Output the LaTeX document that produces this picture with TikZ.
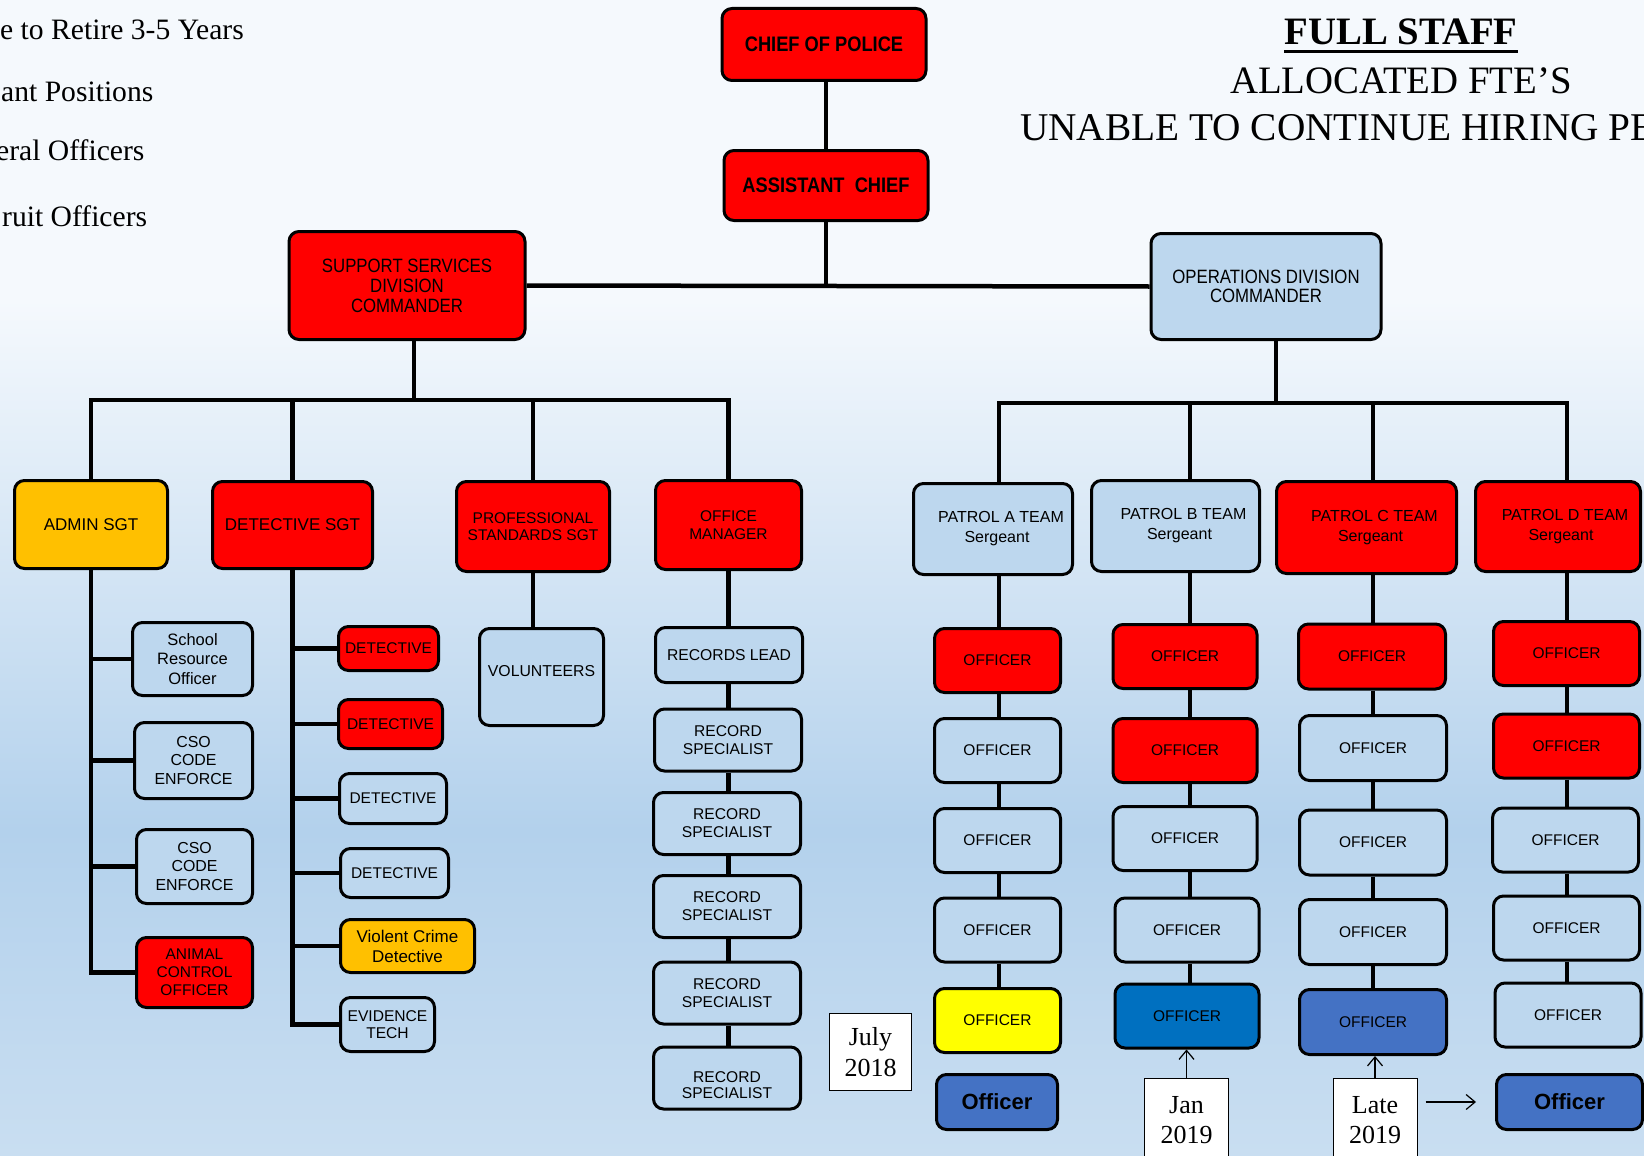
\documentclass[tikz,border=0pt]{standalone}
\usepackage{fontspec}
\setmainfont{Liberation Serif}
\newfontfamily\arial{Liberation Sans}
\newfontfamily\arialn{Liberation Sans}[FakeStretch=0.87]
\usetikzlibrary{arrows.meta}
\definecolor{cRed}{HTML}{FF0000}
\definecolor{cLB}{HTML}{BDD7EE}
\definecolor{cOr}{HTML}{FFC000}
\definecolor{cYe}{HTML}{FFFF00}
\definecolor{cDB}{HTML}{0070C0}
\definecolor{cMB}{HTML}{4472C4}
\definecolor{bgTop}{HTML}{F5F9FD}
\definecolor{bgMid}{HTML}{B3D1EC}
\definecolor{bgBot}{HTML}{C9DEF1}
\newcommand\fsz[2]{\fontsize{#1}{#2}\selectfont}
\newcommand\lowertext[2]{\raisebox{#1}[\height][\depth]{\begin{tabular}{@{}c@{}}#2\end{tabular}}}
\begin{document}
\begin{tikzpicture}[x=1pt,y=-1pt,
  box/.style={draw=black, line width=3pt, rounded corners=10pt, align=center, inner sep=0pt, text=black, font=\arial\fsz{15.5}{18}},
  rbox/.style={box, fill=cRed},
  lbox/.style={box, fill=cLB},
  obox/.style={box, fill=cOr},
  ybox/.style={box, fill=cYe},
  dbox/.style={box, fill=cDB},
  mbox/.style={box, fill=cMB},
  offc/.style={minimum width=126, minimum height=64},
  offb/.style={minimum width=144, minimum height=64},
  offcc/.style={minimum width=147, minimum height=65},
  offd/.style={minimum width=146, minimum height=64},
  recs/.style={lbox, minimum width=147, minimum height=62, font=\arial\fsz{15.6}{17.8}},
  patrol/.style={minimum height=91, font=\arial\fsz{16}{20}},
  bigoff/.style={mbox, minimum height=55, font=\arial\bfseries\fsz{22}{24}},
  conn/.style={line width=4.5pt, draw=black, line join=miter},
  arr/.style={line width=1.2pt, draw=black, -{Straight Barb[length=9pt,width=15pt]}},
  datebox/.style={draw=black, line width=1pt, fill=white, align=center, inner sep=0pt, font=\fsz{26}{30.5}},
  ttl/.style={inner sep=0pt, text=black},
]
\useasboundingbox (0,0) rectangle (1644,1156);
\clip (0,0) rectangle (1644,1156);
% background
\fill[bgTop] (0,0) rectangle (1644,300);
\shade[top color=bgTop, bottom color=bgMid] (0,300) rectangle (1644,830);
\shade[top color=bgMid, bottom color=bgBot] (0,830) rectangle (1644,1156);

% titles
\node[ttl, anchor=base west, font=\fsz{29.6}{31}] (l1) at (0,40) {e to Retire 3-5 Years};
\node[ttl, anchor=base west, font=\fsz{29.6}{31}] (l2) at (1,101.5) {ant Positions};
\node[ttl, anchor=base west, font=\fsz{29.6}{31}] (l3) at (-4,160.5) {eral Officers};
\node[ttl, anchor=base west, font=\fsz{29.6}{31}] (l4) at (2,226) {ruit Officers};
\node[ttl, anchor=base, font=\bfseries\fsz{38.8}{40}] (fs) at (1401,45) {FULL STAFF};
\draw[line width=3pt] ([yshift=-6.5pt]fs.base west) -- ([yshift=-6.5pt]fs.base east);
\node[ttl, anchor=base, font=\fsz{38.8}{40}] (alloc) at (1401,93) {ALLOCATED FTE’S};
\node[ttl, anchor=base west, font=\fsz{39.3}{40}] (unable) at (1020,140.5) {UNABLE TO CONTINUE HIRING PE};

% top
\node[rbox, minimum width=204, minimum height=72, font=\arialn\bfseries\fsz{21}{24}] (chief) at (824,44.5) {CHIEF OF POLICE};
\node[rbox, minimum width=204, minimum height=70, font=\arialn\bfseries\fsz{21}{24}] (asst) at (826,185.5) {ASSISTANT\ \ CHIEF};
\node[rbox, minimum width=236, minimum height=108, font=\arialn\fsz{19.3}{20}] (ssdc) at (407,285.5) {SUPPORT SERVICES\\DIVISION\\COMMANDER};
\node[lbox, minimum width=230, minimum height=106, font=\arialn\fsz{19.3}{19}] (opdc) at (1266,286.5) {OPERATIONS DIVISION\\COMMANDER};

% support level
\node[obox, minimum width=153, minimum height=88, font=\arial\fsz{17}{20}] (admin) at (91,524.5) {ADMIN SGT};
\node[rbox, minimum width=160, minimum height=87, font=\arial\fsz{17}{20}] (detsgt) at (292.5,525) {DETECTIVE SGT};
\node[rbox, minimum width=153, minimum height=90, font=\arial\fsz{15.5}{16.8}] (pss) at (533,526.5) {PROFESSIONAL\\STANDARDS SGT};
\node[rbox, minimum width=146, minimum height=89, font=\arial\fsz{15.5}{17.8}] (om) at (728.5,525) {OFFICE\\MANAGER};

% admin children
\node[lbox, minimum width=120, minimum height=73, font=\arial\fsz{16.5}{19.5}] (sro) at (192.5,659) {School\\Resource\\Officer};
\node[lbox, minimum width=118, minimum height=76, font=\arial\fsz{15.9}{18.4}] (cso1) at (193.5,760.5) {CSO\\CODE\\ENFORCE};
\node[lbox, minimum width=116, minimum height=74, font=\arial\fsz{15.9}{18.4}] (cso2) at (194.5,866.5) {CSO\\CODE\\ENFORCE};
\node[rbox, minimum width=116, minimum height=70, font=\arial\fsz{15.5}{17.8}] (aco) at (194.5,972.5) {ANIMAL\\CONTROL\\OFFICER};

% detective children
\node[rbox, minimum width=100, minimum height=44] (det1) at (388.5,648.5) {DETECTIVE};
\node[rbox, minimum width=104, minimum height=49] (det2) at (390.5,724) {DETECTIVE};
\node[lbox, minimum width=107, minimum height=50] (det3) at (393,798.5) {DETECTIVE};
\node[lbox, minimum width=108, minimum height=49] (det4) at (394.5,873) {DETECTIVE};
\node[obox, minimum width=134, minimum height=53, font=\arial\fsz{17}{20}] (vcd) at (407.5,946) {Violent Crime\\Detective};
\node[lbox, minimum width=94, minimum height=54, font=\arial\fsz{15.6}{17}] (et) at (387.5,1024.5) {EVIDENCE\\TECH};

% professional standards child
\node[lbox, minimum width=124, minimum height=97, font=\arial\fsz{15.8}{18}] (vol) at (541.5,677) {\lowertext{4.5pt}{VOLUNTEERS}};

% office manager children
\node[lbox, minimum width=147, minimum height=55, font=\arial\fsz{15.7}{18}] (rl) at (729,655) {RECORDS LEAD};
\node[recs] (rs1) at (728,740) {RECORD\\SPECIALIST};
\node[recs] (rs2) at (727,823.5) {RECORD\\SPECIALIST};
\node[recs] (rs3) at (727,906.5) {RECORD\\SPECIALIST};
\node[recs] (rs4) at (727,993) {RECORD\\SPECIALIST};
\node[recs] (rs5) at (727,1078) {\lowertext{-9pt}{RECORD\\[-2.2pt]SPECIALIST}};

\node[datebox, minimum width=82, minimum height=77] (july) at (870.5,1052) {July\\2018};

% patrol sergeants
\node[lbox, patrol, minimum width=159] (pa) at (993,529) {\hspace*{16pt}PATROL A TEAM\\\hspace*{8pt}Sergeant};
\node[lbox, patrol, minimum width=168] (pb) at (1175.5,526) {\hspace*{16pt}PATROL B TEAM\\\hspace*{8pt}Sergeant};
\node[rbox, patrol, minimum width=180, minimum height=92] (pc) at (1366.5,527.5) {\hspace*{16pt}PATROL C TEAM\\\hspace*{8pt}Sergeant};
\node[rbox, patrol, minimum width=165, minimum height=90] (pd) at (1558,526.5) {\hspace*{14pt}PATROL D TEAM\\\hspace*{6pt}Sergeant};

% column A
\node[rbox, offc] (a1) at (997.5,660.5) {OFFICER};
\node[lbox, offc] (a2) at (997.5,750.5) {OFFICER};
\node[lbox, offc] (a3) at (997.5,840.5) {OFFICER};
\node[lbox, offc] (a4) at (997.5,930) {OFFICER};
\node[ybox, offc] (a5) at (997.5,1020.5) {OFFICER};
\node[bigoff, minimum width=121] (a6) at (997,1102) {Officer};

% column B
\node[rbox, offb] (b1) at (1185,656.5) {OFFICER};
\node[rbox, offb] (b2) at (1185,750.5) {OFFICER};
\node[lbox, offb] (b3) at (1185,838.5) {OFFICER};
\node[lbox, offb] (b4) at (1187,930) {OFFICER};
\node[dbox, offb] (b5) at (1187,1016) {OFFICER};
\node[datebox, anchor=north, minimum width=84, minimum height=83] (jan) at (1186.5,1078) {Jan\\2019};

% column C
\node[rbox, offcc] (c1) at (1372,656.5) {OFFICER};
\node[lbox, offcc] (c2) at (1373,748) {OFFICER};
\node[lbox, offcc] (c3) at (1373,842.5) {OFFICER};
\node[lbox, offcc] (c4) at (1373,932) {OFFICER};
\node[mbox, offcc] (c5) at (1373,1022) {OFFICER};
\node[datebox, anchor=north, minimum width=84, minimum height=83] (late) at (1375,1078) {Late\\2019};

% column D
\node[rbox, offd] (d1) at (1566.5,653.5) {OFFICER};
\node[rbox, offd] (d2) at (1566.5,746) {OFFICER};
\node[lbox, offd] (d3) at (1565.5,840) {OFFICER};
\node[lbox, offd] (d4) at (1566.5,928) {OFFICER};
\node[lbox, offd] (d5) at (1568,1015) {OFFICER};
\node[bigoff, minimum width=146] (d6) at (1569.5,1102) {Officer};

% ---- connectors ----
\draw[conn] (chief.south -| asst.north) -- (asst.north);
\draw[conn] (asst.south) -- (asst.south |- ssdc.east);
\draw[conn] (ssdc.east) -- (opdc.west);

\coordinate (sb) at (414,400);
\draw[conn] (ssdc.south -| sb) -- (sb);
\draw[conn] (admin.north) -- (admin.north |- sb) -- (om.north |- sb) -- (om.north);
\draw[conn] (detsgt.north) -- (detsgt.north |- sb);
\draw[conn] (pss.north) -- (pss.north |- sb);

\draw[conn] (admin.south) -- (admin.south |- aco.west) -- (aco.west);
\foreach \n in {sro,cso1,cso2} \draw[conn] (admin.south |- \n.west) -- (\n.west);

\draw[conn] (detsgt.south) -- (detsgt.south |- et.west) -- (et.west);
\foreach \n in {det1,det2,det3,det4,vcd} \draw[conn] (detsgt.south |- \n.west) -- (\n.west);

\draw[conn] (pss.south) -- (pss.south |- vol.north);

\foreach \a/\b in {om/rl,rl/rs1,rs1/rs2,rs2/rs3,rs3/rs4,rs4/rs5}
  \draw[conn] (\a.south -| om.south) -- (\b.north -| om.south);

\coordinate (ob) at (1276,403);
\coordinate (cA) at (999,403);
\coordinate (cB) at (1190,403);
\coordinate (cC) at (1373,403);
\coordinate (cD) at (1567,403);
\draw[conn] (opdc.south -| ob) -- (ob);
\draw[conn] (pa.north -| cA) -- (cA) -- (cD) -- (pd.north -| cD);
\draw[conn] (cB) -- (pb.north -| cB);
\draw[conn] (cC) -- (pc.north -| cC);

\foreach \a/\b in {pa/a1,a1/a2,a2/a3,a3/a4,a4/a5}
  \draw[conn] (\a.south -| cA) -- (\b.north -| cA);
\foreach \a/\b in {pb/b1,b1/b2,b2/b3,b3/b4,b4/b5}
  \draw[conn] (\a.south -| cB) -- (\b.north -| cB);
\foreach \a/\b in {pc/c1,c1/c2,c2/c3,c3/c4,c4/c5}
  \draw[conn] (\a.south -| cC) -- (\b.north -| cC);
\foreach \a/\b in {pd/d1,d1/d2,d2/d3,d3/d4,d4/d5}
  \draw[conn] (\a.south -| cD) -- (\b.north -| cD);

% arrows
\draw[arr] (jan.north) -- (jan.north |- b5.south);
\draw[arr] (late.north) -- (late.north |- c5.south);
\draw[arr, shorten <=8pt, shorten >=19pt] (late.east |- d6.west) -- (d6.west);
\end{tikzpicture}
\end{document}
